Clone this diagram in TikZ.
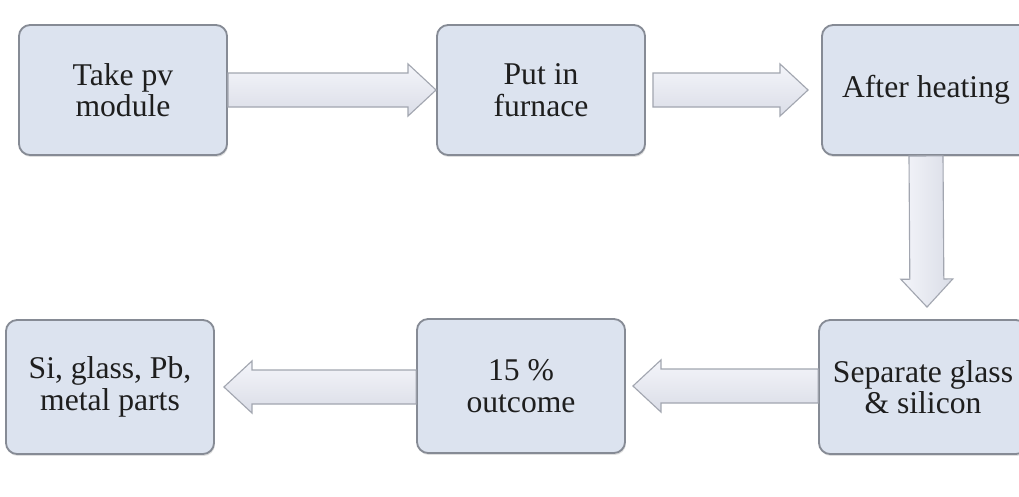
\documentclass[tikz,border=0pt]{standalone}
\usepackage{fontspec}
\setmainfont{Liberation Serif}
\usetikzlibrary{calc,shadows}
\definecolor{boxfill}{HTML}{DCE3EF}
\definecolor{boxline}{HTML}{868B95}
\definecolor{arrtop}{HTML}{F4F5FA}
\definecolor{arrbot}{HTML}{DADDE7}
\definecolor{arrline}{HTML}{A2A6B0}
\definecolor{txt}{HTML}{1E1E1E}
\tikzset{
  stage/.style={draw=boxline, line width=1.3pt, fill=boxfill, rounded corners=0.28cm,
    minimum width=5.2cm, minimum height=3.35cm, align=center, text=txt,
    font=\fontsize{22.5}{22.5}\selectfont,
    drop shadow={opacity=0.25, shadow xshift=0.6pt, shadow yshift=-1.4pt}},
  fat/.style={draw=arrline, line width=0.8pt, top color=arrtop, bottom color=arrbot}
}
\newcommand{\fatarrow}[3][]{%
  \path (#2) coordinate (fa-s) (#3) coordinate (fa-t)
    ($(fa-t)!0.7cm!(fa-s)$) coordinate (fa-h);
  \draw[fat,#1] ($(fa-s)!0.425cm!90:(fa-t)$) -- ($(fa-h)!0.425cm!90:(fa-t)$)
    -- ($(fa-h)!0.65cm!90:(fa-t)$) -- (fa-t) -- ($(fa-h)!0.65cm!-90:(fa-t)$)
    -- ($(fa-h)!0.425cm!-90:(fa-t)$) -- ($(fa-s)!0.425cm!-90:(fa-t)$) -- cycle;}

\begin{document}
\begin{tikzpicture}[x=0.025cm, y=-0.025cm]
\useasboundingbox (0,0) rectangle (1019,496);
\clip (0,0) rectangle (1019,496);
\fill[white] (0,0) rectangle (1019,496);

\node[stage, minimum height=3.25cm] (take) at (123,90) {Take pv\\module};
\node[stage, minimum height=3.25cm] (put) at (541,90) {Put in\\furnace};
\node[stage, minimum height=3.25cm] (heat) at (926,90) {After heating};
\node[stage] (sep) at (923,387) {Separate glass\\\& silicon};
\node[stage] (out) at (521,386) {15 \%\\outcome};
\node[stage] (parts) at (110,387) {Si, glass, Pb,\\metal parts};

\coordinate (a2s) at ($(put.east)+(7,0)$);
\coordinate (a2t) at ($(heat.west)+(-13,0)$);
\coordinate (a3t) at ($(sep.north)+(4,-12)$);
\coordinate (a4s) at (sep.west |- out.east);
\coordinate (a4t) at ($(out.east)+(7,0)$);
\coordinate (a5s) at (out.west |- parts.east);
\coordinate (a5t) at ($(parts.east)+(9,0)$);

\fatarrow{take.east}{put.west}
\fatarrow{a2s}{a2t}
\fatarrow[shading angle=90]{heat.south}{a3t}
\fatarrow{a4s}{a4t}
\fatarrow{a5s}{a5t}
\end{tikzpicture}
\end{document}
